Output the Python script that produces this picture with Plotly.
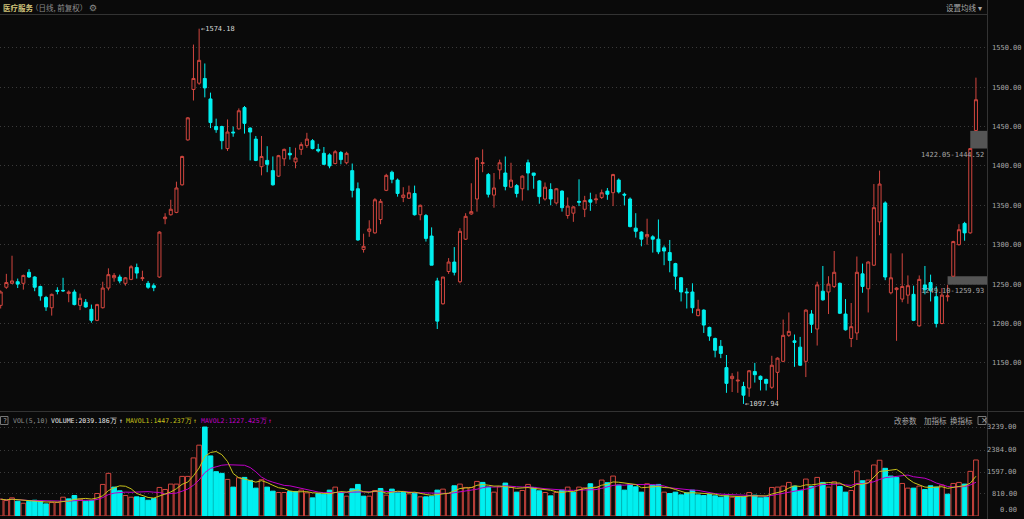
import pandas as pd
import plotly.graph_objects as go

# -----------------------
# Data  (医疗服务, daily, forward adjusted; volume in 万)
# -----------------------
open_ = [1223, 1246, 1251, 1253, 1251, 1265, 1259, 1247, 1233, 1220,
         1242, 1242, 1238, 1240, 1223, 1227, 1218, 1204, 1220, 1245,
         1258, 1259, 1251, 1256, 1271, 1257, 1251, 1248, 1259, 1333,
         1338, 1341, 1376, 1433, 1497, 1505, 1511, 1485, 1450, 1450,
         1422, 1443, 1447, 1474, 1448, 1434, 1399, 1407, 1394, 1387,
         1409, 1416, 1405, 1421, 1426, 1432, 1421, 1416, 1414, 1403,
         1417, 1404, 1394, 1371, 1294, 1317, 1315, 1332, 1369, 1392,
         1382, 1360, 1359, 1365, 1338, 1337, 1311, 1254, 1225, 1266,
         1278, 1253, 1307, 1339, 1358, 1403, 1389, 1363, 1395, 1391,
         1373, 1375, 1371, 1404, 1391, 1381, 1358, 1370, 1353, 1368,
         1337, 1340, 1355, 1345, 1357, 1357, 1360, 1368, 1366, 1382,
         1364, 1358, 1321, 1316, 1310, 1310, 1307, 1296, 1290, 1276,
         1258, 1240, 1240, 1210, 1217, 1195, 1181, 1171, 1144, 1130,
         1127, 1120, 1118, 1139, 1133, 1129, 1119, 1138, 1152, 1185,
         1178, 1170, 1152, 1212, 1193, 1241, 1240, 1247, 1251, 1212,
         1181, 1188, 1263, 1244, 1274, 1329, 1353, 1239, 1243, 1231,
         1236, 1237, 1197, 1249, 1252, 1234, 1200, 1234, 1260, 1300,
         1327, 1315, 1445]
high = [1242, 1263, 1286, 1257, 1262, 1269, 1260, 1248, 1235, 1238,
        1246, 1258, 1242, 1243, 1238, 1231, 1224, 1225, 1253, 1270,
        1264, 1262, 1259, 1274, 1276, 1267, 1254, 1251, 1317, 1340,
        1357, 1380, 1413, 1462, 1554, 1574.18, 1530, 1493, 1460, 1451,
        1459, 1450, 1473, 1476, 1449, 1438, 1438, 1425, 1412, 1414,
        1422, 1424, 1423, 1430, 1442, 1434, 1428, 1424, 1416, 1420,
        1419, 1418, 1403, 1379, 1314, 1331, 1359, 1358, 1390, 1394,
        1384, 1373, 1375, 1375, 1351, 1339, 1322, 1258, 1259, 1283,
        1297, 1321, 1340, 1378, 1411, 1421, 1391, 1391, 1408, 1412,
        1404, 1377, 1388, 1408, 1391, 1382, 1379, 1378, 1372, 1369,
        1360, 1349, 1383, 1362, 1366, 1364, 1370, 1372, 1390, 1384,
        1366, 1360, 1340, 1317, 1333, 1312, 1332, 1299, 1306, 1277,
        1259, 1245, 1251, 1230, 1218, 1196, 1182, 1179, 1160, 1137,
        1139, 1126, 1141, 1150, 1134, 1130, 1159, 1157, 1205, 1214,
        1186, 1183, 1218, 1217, 1253, 1273, 1260, 1292, 1252, 1231,
        1226, 1285, 1276, 1279, 1377, 1394, 1355, 1289, 1246, 1289,
        1261, 1248, 1261, 1273, 1262, 1247, 1245, 1249.10, 1305, 1326,
        1329, 1422.05, 1512]
low = [1219, 1244, 1250, 1245, 1243, 1258, 1241, 1229, 1216, 1210,
       1237, 1240, 1227, 1223, 1217, 1220, 1201, 1203, 1219, 1242,
       1253, 1251, 1248, 1255, 1257, 1254, 1244, 1241, 1258, 1326,
       1337, 1340, 1375, 1432, 1483, 1503, 1487, 1448, 1442, 1421,
       1419, 1437, 1446, 1441, 1407, 1406, 1388, 1392, 1375, 1386,
       1400, 1408, 1397, 1414, 1423, 1421, 1417, 1401, 1397, 1402,
       1402, 1402, 1360, 1305, 1290, 1310, 1314, 1326, 1368, 1378,
       1361, 1354, 1358, 1337, 1331, 1304, 1274, 1193, 1224, 1263,
       1261, 1251, 1306, 1338, 1342, 1392, 1360, 1347, 1383, 1369,
       1372, 1360, 1356, 1369, 1371, 1352, 1356, 1350, 1351, 1342,
       1333, 1329, 1349, 1335, 1343, 1352, 1358, 1357, 1349, 1365,
       1350, 1322, 1309, 1298, 1300, 1290, 1288, 1274, 1265, 1243,
       1228, 1219, 1213, 1209, 1188, 1178, 1157, 1156, 1112, 1113,
       1112, 1097.94, 1107, 1125, 1115, 1115, 1117, 1103, 1151, 1183,
       1145, 1146, 1132, 1188, 1172, 1229, 1212, 1245, 1212, 1191,
       1170, 1179, 1239, 1214, 1273, 1312, 1255, 1237, 1178, 1227,
       1225, 1203, 1196, 1237, 1228, 1195, 1199, 1228, 1259.93, 1299,
       1305, 1314, 1444.52]
close = [1240, 1252, 1254, 1250, 1261, 1259, 1246, 1235, 1221, 1237,
         1241, 1241.5, 1240, 1224, 1232, 1221, 1204, 1224, 1245, 1262,
         1261, 1254, 1258, 1272, 1264, 1258, 1246, 1245.5, 1316, 1335,
         1345, 1372, 1412, 1461, 1511, 1534, 1499, 1455, 1446, 1432,
         1443, 1442, 1470, 1454, 1443, 1407, 1412, 1402, 1376, 1413,
         1421, 1414, 1410, 1427, 1434, 1422, 1419, 1402, 1400, 1418,
         1408, 1416, 1369, 1306, 1298, 1320, 1357, 1355, 1388, 1383,
         1365, 1363, 1366, 1338, 1350, 1308, 1274, 1203, 1259, 1278,
         1265, 1317, 1336, 1342, 1410, 1404, 1364, 1372, 1404, 1374,
         1382, 1365, 1387, 1391, 1388, 1361, 1373, 1358, 1371, 1347,
         1349, 1348, 1354, 1356, 1354, 1358, 1366, 1364, 1389, 1367,
         1363, 1323, 1317, 1307, 1313, 1307, 1291, 1292, 1280, 1260,
         1240, 1239, 1220, 1218, 1198, 1184, 1166, 1162, 1124, 1133,
         1128, 1109, 1140, 1135, 1129, 1124, 1147, 1156, 1185, 1190,
         1176, 1147, 1217, 1199, 1249, 1230, 1250, 1265, 1213, 1192,
         1196, 1265, 1247, 1278, 1347, 1377, 1259, 1258, 1245, 1247,
         1248, 1204, 1256, 1243, 1242, 1200, 1236, 1235, 1304, 1319,
         1315, 1422, 1484]
volume = [611, 562, 660, 538, 464, 538, 574, 525, 440, 489,
          489, 684, 623, 745, 611, 538, 562, 819, 1149, 1552,
          1051, 917, 745, 684, 697, 672, 574, 635, 1039, 965,
          1161, 1161, 1442, 1442, 2114, 2578, 3239, 2187, 1613, 1552,
          1332, 1051, 1393, 1405, 1295, 1014, 1320, 1051, 904, 855,
          855, 892, 892, 941, 843, 660, 819, 794, 941, 1051,
          843, 721, 990, 1149, 721, 721, 929, 1002, 758, 978,
          843, 868, 807, 843, 697, 697, 721, 941, 978, 819,
          1100, 1161, 1039, 1039, 1259, 1222, 1051, 868, 1063, 1198,
          1039, 868, 929, 1149, 1039, 917, 855, 733, 855, 941,
          1051, 868, 1051, 1026, 1173, 1051, 1308, 1210, 1454, 1124,
          941, 1149, 1063, 868, 1173, 1124, 1149, 868, 819, 868,
          770, 843, 941, 770, 745, 782, 733, 684, 733, 684,
          697, 697, 855, 758, 660, 684, 1039, 1051, 1088, 1222,
          1088, 929, 1344, 1075, 1405, 1222, 1051, 1246, 1075, 868,
          929, 1637, 1283, 1308, 1857, 2029, 1735, 1454, 1405, 1185,
          1014, 1014, 1088, 965, 1100, 1051, 1124, 794, 1185, 1222,
          1161, 1625, 2039.186]

price_ticks = [1150, 1200, 1250, 1300, 1350, 1400, 1450, 1500, 1550]
vol_ticks = [0, 810, 1597, 2384, 3239]
vol_tick_labels = ["0.00", "810.00", "1597.00", "2384.00", "3239.00"]
gap_idx = [167, 171]  # unfilled gaps: high of this day -> low of next day

# -----------------------
# Style
# -----------------------
BG = "#0a0a0a"
RED = "#d2463f"
CYAN = "#00f0f0"
YEL = "#c8c21a"
MAG = "#c000c8"
GRID = "#3a3a3a"
TXT = "#a8a8a8"
MONO = "DejaVu Sans Mono"
CJK = "Noto Sans CJK SC"
W, H = 1024, 519
PW = 987  # plot width in px


def px(x):
    return x / PW


def py(y):
    return 1 - y / H


x = list(range(len(close)))
up = [close[0] >= open_[0]] + [close[i] >= close[i - 1] for i in range(1, len(close))]
ma5 = pd.Series(volume).rolling(5, min_periods=1).mean()
ma10 = pd.Series(volume).rolling(10, min_periods=1).mean()

fig = go.Figure()

fig.add_trace(go.Candlestick(
    x=x, open=open_, high=high, low=low, close=close,
    increasing=dict(line=dict(color=RED, width=1), fillcolor=BG),
    decreasing=dict(line=dict(color=CYAN, width=1), fillcolor=CYAN),
    whiskerwidth=0, showlegend=False
))

fig.add_trace(go.Bar(
    x=x, y=volume, yaxis="y2",
    marker=dict(color=[BG if u else CYAN for u in up],
                line=dict(color=[RED if u else CYAN for u in up], width=1)),
    showlegend=False
))
fig.add_trace(go.Scatter(x=x, y=ma10, yaxis="y2", mode="lines",
                         line=dict(color=MAG, width=1), showlegend=False))
fig.add_trace(go.Scatter(x=x, y=ma5, yaxis="y2", mode="lines",
                         line=dict(color=YEL, width=1), showlegend=False))

ann = []
shapes = []

# gap boxes
for i in gap_idx:
    lo, hi = high[i], low[i + 1]
    shapes.append(dict(type="rect", xref="x", yref="y", x0=i, x1=173.95,
                       y0=lo, y1=hi, fillcolor="#555555", line=dict(width=0),
                       layer="below"))
    ann.append(dict(xref="paper", yref="y", x=px(986), y=lo, text=f"{lo:.2f}-{hi:.2f}",
                    xanchor="right", yanchor="top", showarrow=False,
                    font=dict(family=MONO, size=7, color=TXT)))

# extreme marks
imax = max(x, key=lambda i: high[i])
imin = min(x, key=lambda i: low[i])
ann.append(dict(x=imax, y=high[imax], xref="x", yref="y", text=f"←{high[imax]:.2f}",
                xanchor="left", yanchor="middle", showarrow=False,
                font=dict(family=MONO, size=7, color="#d8d8d8")))
ann.append(dict(x=imin, y=low[imin], xref="x", yref="y", text=f"←{low[imin]:.2f}",
                xanchor="left", yanchor="middle", showarrow=False,
                font=dict(family=MONO, size=7, color="#d8d8d8")))

# volume tick labels (right aligned)
for v, t in zip(vol_ticks, vol_tick_labels):
    ann.append(dict(xref="paper", yref="y2", x=px(1019), y=v, text=t,
                    xanchor="right", yanchor="middle", showarrow=False,
                    yshift=6 if v == 0 else 0,
                    font=dict(family=MONO, size=7, color=TXT)))

# header texts
def label(x0, y0, text, color, family=CJK, size=7.5, anchor="left"):
    ann.append(dict(xref="paper", yref="paper", x=px(x0), y=py(y0), text=text,
                    xanchor=anchor, yanchor="middle", showarrow=False,
                    font=dict(family=family, size=size, color=color)))


label(1, 7.5, "<b>医疗服务</b>", "#cfc37a")
label(29, 7.5, "（日线, 前复权）", "#8c8c8c")
label(87, 7.5, "⚙", "#8c8c8c", family="DejaVu Sans", size=9)
label(984, 7.5, "设置均线 ▾", TXT, anchor="right")

label(1, 420.5, "?", TXT, family=MONO, size=6.5)
label(11, 420.5, "VOL(5,10)", "#8c8c8c", family=MONO, size=6.5)
label(49, 420.5, "VOLUME:2039.186万", "#e6e6e6", family=MONO, size=6.5)
label(117, 420.5, "↑", "#e6e6e6", family=MONO, size=6.5)
label(124, 420.5, "MAVOL1:1447.237万", YEL, family=MONO, size=6.5)
label(191, 420.5, "↑", YEL, family=MONO, size=6.5)
label(199, 420.5, "MAVOL2:1227.425万", MAG, family=MONO, size=6.5)
label(266, 420.5, "↑", MAG, family=MONO, size=6.5)
label(892, 420.5, "改参数", TXT)
label(922, 420.5, "加指标", TXT)
label(948, 420.5, "换指标", TXT)
label(978.5, 420.5, "×", TXT, family="DejaVu Sans", size=8)

# frame lines and small boxes
line = dict(color="#333333", width=1)
shapes += [
    dict(type="line", xref="paper", yref="paper", x0=0, x1=px(PW), y0=py(14.5), y1=py(14.5), line=line),
    dict(type="line", xref="paper", yref="paper", x0=0, x1=px(W), y0=py(411.5), y1=py(411.5), line=line),
    dict(type="line", xref="paper", yref="paper", x0=px(987.5), x1=px(987.5), y0=0, y1=1, line=line),
    dict(type="rect", xref="paper", yref="paper", x0=px(0.5), x1=px(8), y0=py(424.5), y1=py(416.5),
         line=dict(color="#777777", width=1)),
    dict(type="rect", xref="paper", yref="paper", x0=px(978), x1=px(986), y0=py(424.5), y1=py(416.5),
         line=dict(color="#777777", width=1)),
]

fig.update_layout(
    width=W, height=H,
    margin=dict(l=0, r=W - PW, t=0, b=0),
    paper_bgcolor=BG, plot_bgcolor=BG,
    boxgap=0.24, bargap=0.18,
    showlegend=False,
    xaxis=dict(range=[-0.12, 173.95], showticklabels=False, showgrid=False,
               zeroline=False, rangeslider=dict(visible=False), fixedrange=True),
    yaxis=dict(domain=[0.21, 0.9672], range=[1090.2, 1588.96], side="right",
               tickvals=price_ticks, ticktext=[f"{v:.2f}" for v in price_ticks],
               tickfont=dict(family=MONO, size=7, color=TXT), ticks="",
               ticklabelstandoff=4,
               gridcolor=GRID, griddash="1px,3px", zeroline=False),
    yaxis2=dict(domain=[0.0058, 0.1811], range=[0, 3312], side="right", anchor="x",
                tickvals=vol_ticks[1:], showticklabels=False,
                gridcolor=GRID, griddash="1px,3px", zeroline=False),
    annotations=ann,
    shapes=shapes,
)

# page without the default body margin, so the chart fills the window
fig.write_html("out.html", config={"displayModeBar": False},
               post_script="document.body.style.margin='0';document.body.style.background='#0a0a0a';")
